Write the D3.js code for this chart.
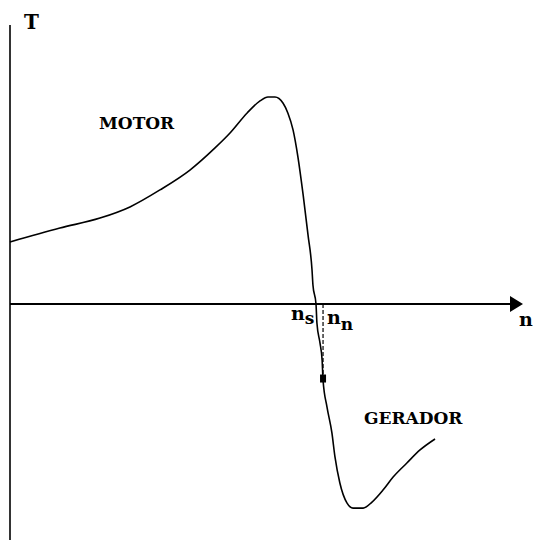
<!DOCTYPE html>
<html>
<head>
<meta charset="UTF-8">
<script src="https://d3js.org/d3.v7.min.js"></script>
<style>
    body { margin: 0; background: #fff; }
    svg text { font-family: "DejaVu Serif", serif; font-weight: bold; fill: #000; }
</style>
</head>
<body>
<svg width="533" height="540"></svg>
<script>
    // velocidade relativa (n / ns) e conjugado relativo (T / Tmax)
    const speed = [0, 0.163, 0.294, 0.392, 0.490, 0.588, 0.670, 0.719, 0.775, 0.817, 0.843, 0.866,
        0.892, 0.908, 0.925, 0.941, 0.958, 0.974, 0.987, 0.990, 1.000, 1.003, 1.013, 1.020, 1.023,
        1.036, 1.052, 1.062, 1.078, 1.101, 1.121, 1.154, 1.183, 1.219, 1.252, 1.297, 1.340, 1.389];
    const torque = [0.300, 0.367, 0.415, 0.469, 0.551, 0.647, 0.754, 0.826, 0.923, 0.981, 1.000, 1.000,
        0.971, 0.923, 0.841, 0.710, 0.527, 0.333, 0.164, 0.092, 0, -0.092, -0.188, -0.271, -0.367,
        -0.498, -0.623, -0.739, -0.865, -0.961, -0.986, -0.986, -0.957, -0.899, -0.836, -0.768, -0.705, -0.652];

    const ns = 1.0, nn = 1.023, Tnn = -0.36;

    const svg = d3.select("svg");
    const x = d3.scaleLinear().domain([0, 1]).range([10, 316]);
    const y = d3.scaleLinear().domain([0, 1]).range([304, 97]);

    // eixos
    svg.append("line")
        .attr("x1", x(0)).attr("x2", x(0))
        .attr("y1", 25).attr("y2", 540)
        .attr("stroke", "#000").attr("stroke-width", 1.6);
    svg.append("line")
        .attr("x1", x(0)).attr("x2", 513)
        .attr("y1", y(0)).attr("y2", y(0))
        .attr("stroke", "#000").attr("stroke-width", 2);
    svg.append("path")
        .attr("d", `M510,${y(0) - 8} L523,${y(0)} L510,${y(0) + 8} Z`)
        .attr("fill", "#000");

    // curva T x n
    const pts = speed.map((s, i) => [s, torque[i]]);
    svg.append("path")
        .datum(pts)
        .attr("d", d3.line().x(d => x(d[0])).y(d => y(d[1])).curve(d3.curveMonotoneX))
        .attr("fill", "none")
        .attr("stroke", "#000")
        .attr("stroke-width", 1.6);

    // ponto nominal
    svg.append("line")
        .attr("x1", x(nn)).attr("x2", x(nn))
        .attr("y1", y(0)).attr("y2", y(Tnn))
        .attr("stroke", "#000").attr("stroke-width", 1.2)
        .attr("stroke-dasharray", "4,2");
    svg.append("rect")
        .attr("x", x(nn) - 3).attr("y", y(Tnn) - 4)
        .attr("width", 6).attr("height", 8)
        .attr("fill", "#000");

    // textos
    svg.append("text").attr("x", 24).attr("y", 29).attr("font-size", 20).text("T");
    svg.append("text").attr("x", 519).attr("y", 326).attr("font-size", 19).text("n");
    svg.append("text").attr("x", 99).attr("y", 129).attr("font-size", 17).text("MOTOR");
    svg.append("text").attr("x", 364).attr("y", 424).attr("font-size", 17).text("GERADOR");

    const lab1 = svg.append("text").attr("x", 291).attr("y", 320).attr("font-size", 19);
    lab1.append("tspan").text("n");
    lab1.append("tspan").attr("dy", 4).attr("font-size", 17).text("s");
    const lab2 = svg.append("text").attr("x", 327).attr("y", 324).attr("font-size", 19);
    lab2.append("tspan").text("n");
    lab2.append("tspan").attr("dy", 6).attr("font-size", 17).text("n");
</script>
</body>
</html>
